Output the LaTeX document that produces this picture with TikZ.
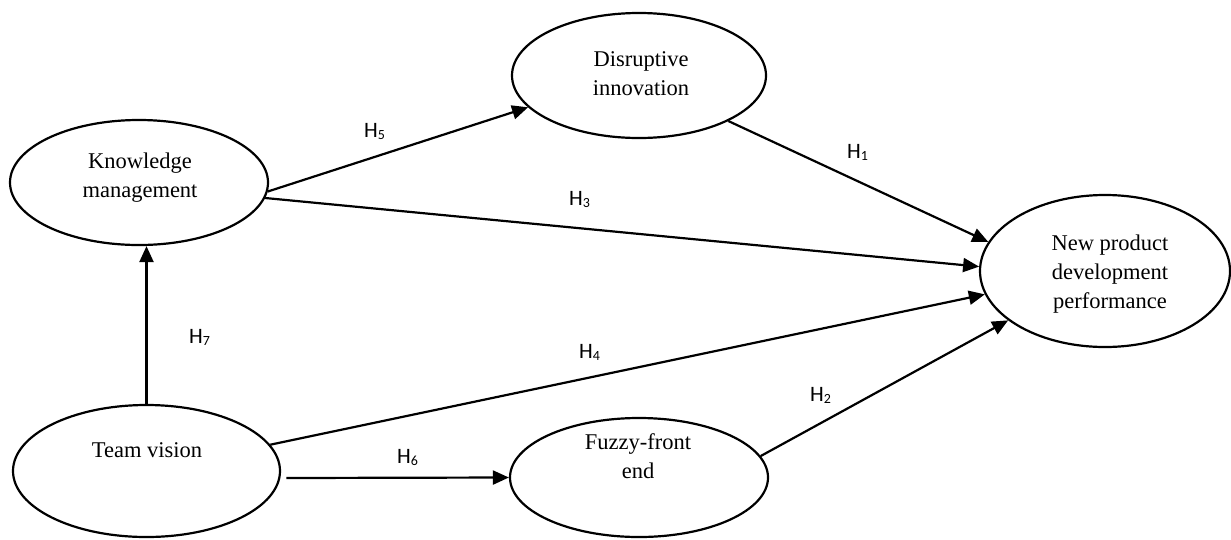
\documentclass[tikz,border=0pt]{standalone}
\usepackage{fontspec}
\setmainfont{Liberation Serif}
\newfontfamily\hfont{Carlito}
\usetikzlibrary{arrows.meta,shapes.geometric}
\newcommand{\hyp}[1]{{\hfont\fontsize{22}{22}\selectfont H\raisebox{-2.5pt}{\fontsize{14}{14}\selectfont #1}}}
\tikzset{
  construct/.style={ellipse, draw, line width=2.2pt, inner sep=0pt},
  ctext/.style={align=center, font=\fontsize{22.5}{29}\selectfont, inner sep=0pt},
  hpath/.style={line width=2.2pt, -{Triangle[length=16pt,width=14pt]}},
  hlab/.style={anchor=base west, inner sep=0pt}
}
\begin{document}
\begin{tikzpicture}[x=1pt,y=-1pt]
\useasboundingbox (0,0) rectangle (1231,539);
% constructs
\node[construct, minimum width=258pt, minimum height=125pt] (km) at (139,182.5) {};
\node[construct, minimum width=254pt, minimum height=125pt] (di) at (639,75.5) {};
\node[construct, minimum width=250pt, minimum height=152pt] (npd) at (1105,271) {};
\node[construct, minimum width=267pt, minimum height=132pt] (tv) at (146.5,471) {};
\node[construct, minimum width=258pt, minimum height=119pt] (ffe) at (639,477.5) {};
% texts
\node[ctext] (kmt) at (140,178) {Knowledge\\management};
\node[ctext] (dit) at (641,74) {Disruptive\\innovation};
\node[ctext] (npdt) at (1110,274) {New product\\development\\performance};
\node[ctext] (tvt) at (147,450) {Team vision};
\node[ctext] (ffet) at (638,456) {Fuzzy-front\\end};
% paths
\draw[hpath] (km.-4) -- (di.196);
\draw[hpath] (di.-27) -- (npd.166);
\draw[hpath] (km.-7) -- (npd.178);
\draw[hpath] (tv.12) -- (npd.191);
\draw[hpath] (ffe.10) -- (npd.207);
\draw[hpath, shorten <=6pt] (tv.-3) -- (ffe.180);
\draw[hpath] (tv.north) -- (tv.north |- km.south);
% labels
\node[hlab] (h5) at (364,137) {\hyp{5}};
\node[hlab] (h1) at (847,158) {\hyp{1}};
\node[hlab] (h3) at (569,205) {\hyp{3}};
\node[hlab] (h7) at (189,343) {\hyp{7}};
\node[hlab] (h4) at (579,358) {\hyp{4}};
\node[hlab] (h2) at (810,401) {\hyp{2}};
\node[hlab] (h6) at (397,463) {\hyp{6}};
\end{tikzpicture}
\end{document}
